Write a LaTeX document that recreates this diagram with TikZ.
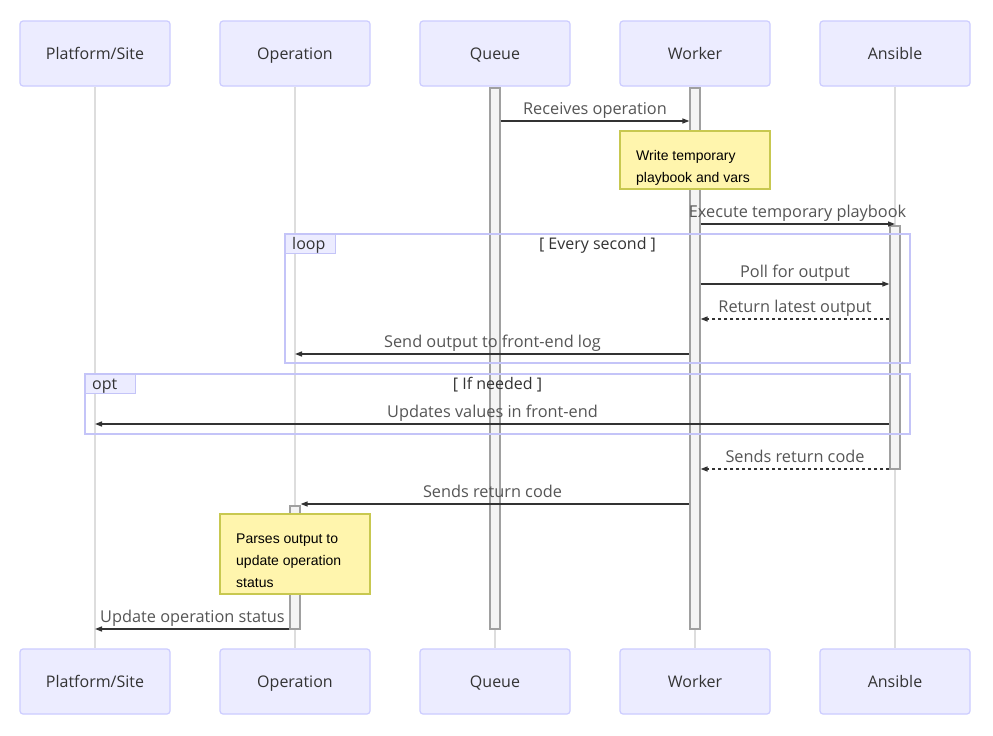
\documentclass[tikz,border=0pt]{standalone}
\usepackage{fontspec}
\setmainfont{Liberation Sans}
\newfontfamily\uifont{Open Sans}
\usetikzlibrary{arrows.meta}
\definecolor{actfill}{HTML}{ECECFF}
\definecolor{actdraw}{HTML}{CCCCFF}
\definecolor{lifec}{HTML}{DDDDDD}
\definecolor{barfill}{HTML}{F4F4F4}
\definecolor{bardraw}{HTML}{A0A0A0}
\definecolor{msgc}{HTML}{333333}
\definecolor{msgtext}{HTML}{555555}
\definecolor{notefill}{HTML}{FFF5AD}
\definecolor{notedraw}{HTML}{C8C850}
\definecolor{framec}{HTML}{C4C4F8}
\tikzset{
  actor/.style={draw=actdraw, fill=actfill, line width=1.2pt, rounded corners=3pt,
    minimum width=150pt, minimum height=65pt, inner sep=0pt,
    text height=13pt, text depth=1pt,
    font=\uifont\fontsize{16}{18}\selectfont, text=msgc},
  life/.style={draw=lifec, line width=1.5pt},
  actbar/.style={draw=bardraw, fill=barfill, line width=1.2pt, minimum width=10pt, inner sep=0pt},
  msg/.style={draw=msgc, line width=1.4pt, -{Triangle[length=7pt,width=5pt]}},
  dmsg/.style={msg, dash pattern=on 3pt off 3pt},
  lbl/.style={font=\uifont\fontsize{16.3}{18}\selectfont, text=msgtext, inner sep=0pt, anchor=base},
  notebox/.style={draw=notedraw, fill=notefill, line width=1.2pt, minimum width=150pt,
    inner sep=0pt},
  notetext/.style={font=\fontsize{14}{22}\selectfont, text=black, align=left, anchor=north west, inner sep=0pt},
  frame/.style={draw=framec, line width=1.4pt},
  tab/.style={draw=framec, fill=actfill, line width=1.4pt, minimum width=50pt, minimum height=19pt, inner sep=0pt},
  tabtext/.style={font=\uifont\fontsize{16}{18}\selectfont, text=msgc, inner sep=0pt, anchor=base},
}
\begin{document}
\begin{tikzpicture}[x=1pt,y=-1pt]
\useasboundingbox (0,0) rectangle (993,736);
\fill[white] (0,0) rectangle (993,736);

% actors top
\node[actor] (pt) at (95,53.5) {Platform/Site};
\node[actor] (ot) at (295,53.5) {Operation};
\node[actor] (qt) at (495,53.5) {Queue};
\node[actor] (wt) at (695,53.5) {Worker};
\node[actor] (at) at (895,53.5) {Ansible};
% actors bottom
\node[actor] (pb) at (95,681.5) {Platform/Site};
\node[actor] (ob) at (295,681.5) {Operation};
\node[actor] (qb) at (495,681.5) {Queue};
\node[actor] (wb) at (695,681.5) {Worker};
\node[actor] (ab) at (895,681.5) {Ansible};

% lifelines
\draw[life] (pt) -- (pb);
\draw[life] (ot) -- (ob);
\draw[life] (qt) -- (qb);
\draw[life] (wt) -- (wb);
\draw[life] (at) -- (ab);

% activation bars
\node[actbar, minimum height=541pt] (qbar) at (495,358.5) {};
\node[actbar, minimum height=541pt] (wbar) at (695,358.5) {};
\node[actbar, minimum height=243pt] (abar) at (895,347.5) {};
\node[actbar, minimum height=123pt] (obar) at (295,567.5) {};

% message 1
\draw[msg] (qbar.east |- 0,121) -- (wbar.west |- 0,121);
\node[lbl] (l1) at (595,114) {Receives operation};

% note 1
\node[notebox, minimum height=58pt] (n1) at (695,160) {};
\node[notetext] (n1t) at (636,150) {Write temporary\\playbook and vars};

% message 2
\draw[msg] (wbar.east |- 0,224) -- (at.south |- 0,224);
\node[lbl] (l2) at (797.5,217) {Execute temporary playbook};

% loop frame
\draw[frame] (285,234) rectangle (910,363);
\node[tab, anchor=north west] (looptab) at (285,234) {};
\node[tabtext, anchor=base west] (loopl) at (292,249) {loop};
\node[tabtext] (loopc) at (597.5,249) {[ Every second ]};

% message 3
\draw[msg] (wbar.east |- 0,284) -- (abar.west |- 0,284);
\node[lbl] (l3) at (795,277) {Poll for output};
% message 4
\draw[dmsg] (abar.west |- 0,319) -- (wbar.east |- 0,319);
\node[lbl] (l4) at (795,312) {Return latest output};
% message 5
\draw[msg] (wbar.west |- 0,354) -- (ot.south |- 0,354);
\node[lbl] (l5) at (492.5,347) {Send output to front-end log};

% opt frame
\draw[frame] (85,374) rectangle (910,434);
\node[tab, anchor=north west] (opttab) at (85,374) {};
\node[tabtext, anchor=base west] (optl) at (92,389) {opt};
\node[tabtext] (optc) at (497.5,389) {[ If needed ]};

% message 6
\draw[msg] (abar.west |- 0,424) -- (pt.south |- 0,424);
\node[lbl] (l6) at (492.5,417) {Updates values in front-end};

% message 7
\draw[dmsg] (abar.west |- 0,469) -- (wbar.east |- 0,469);
\node[lbl] (l7) at (795,462) {Sends return code};

% message 8
\draw[msg] (wbar.west |- 0,504) -- (obar.east |- 0,504);
\node[lbl] (l8) at (492.5,497) {Sends return code};

% note 2
\node[notebox, minimum height=80pt] (n2) at (295,554) {};
\node[notetext] (n2t) at (236,534) {Parses output to\\update operation\\status};

% message 9
\draw[msg] (obar.west |- 0,629) -- (pt.south |- 0,629);
\node[lbl] (l9) at (192.5,622) {Update operation status};
\end{tikzpicture}
\end{document}
